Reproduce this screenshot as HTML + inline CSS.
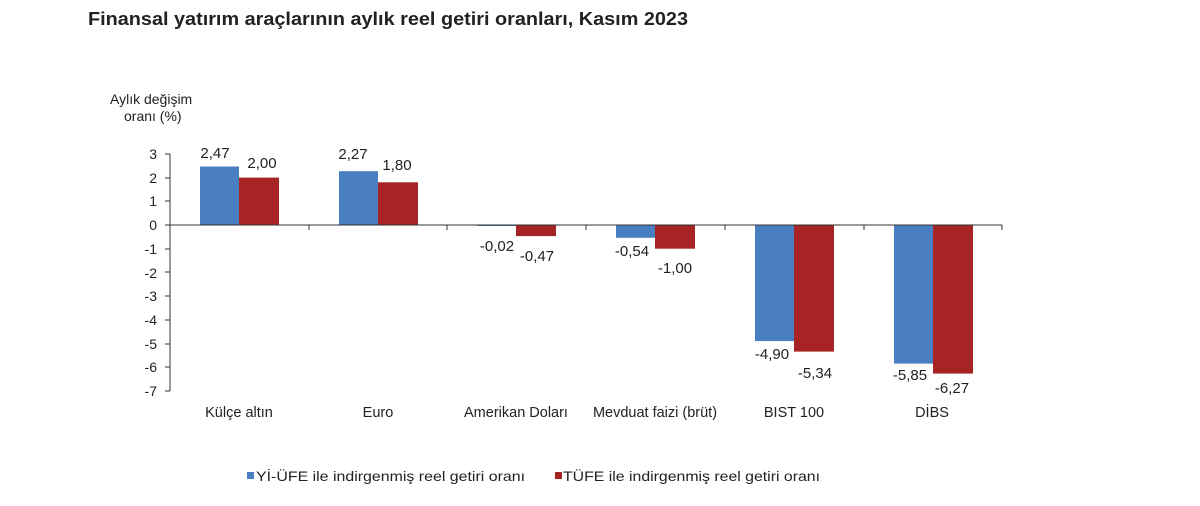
<!DOCTYPE html>
<html><head><meta charset="utf-8"><style>body{margin:0;background:#fff}svg{display:block}text{font-family:"Liberation Sans",Arial,sans-serif;fill:#222}</style></head><body>
<svg width="1200" height="506" viewBox="0 0 1200 506">
<text x="88" y="25" font-size="18" font-weight="bold" fill="#000" textLength="600" lengthAdjust="spacingAndGlyphs">Finansal yatırım araçlarının aylık reel getiri oranları, Kasım 2023</text>
<text x="110" y="104" font-size="14">Aylık değişim</text>
<text x="124" y="121" font-size="14">oranı (%)</text>
<g font-size="14" text-anchor="end">
<text x="157" y="159">3</text><text x="157" y="183">2</text><text x="157" y="206">1</text><text x="157" y="230">0</text>
<text x="157" y="254">-1</text><text x="157" y="278">-2</text><text x="157" y="301">-3</text><text x="157" y="325">-4</text>
<text x="157" y="349">-5</text><text x="157" y="372">-6</text><text x="157" y="396">-7</text>
</g>
<g stroke="#333" stroke-width="1">
<line x1="170" y1="154" x2="170" y2="391"/>
<line x1="165" y1="154" x2="170" y2="154"/><line x1="165" y1="178" x2="170" y2="178"/><line x1="165" y1="201" x2="170" y2="201"/><line x1="165" y1="225" x2="170" y2="225"/><line x1="165" y1="249" x2="170" y2="249"/><line x1="165" y1="272" x2="170" y2="272"/><line x1="165" y1="296" x2="170" y2="296"/><line x1="165" y1="320" x2="170" y2="320"/><line x1="165" y1="344" x2="170" y2="344"/><line x1="165" y1="367" x2="170" y2="367"/><line x1="165" y1="391" x2="170" y2="391"/>
</g>
<g fill="#4a7ec2">
<rect x="200" y="166.5" width="39" height="58.5"/>
<rect x="339" y="171.2" width="39" height="53.8"/>
<rect x="477" y="225" width="39" height="1"/>
<rect x="616" y="225" width="39" height="12.8"/>
<rect x="755" y="225" width="39" height="116.1"/>
<rect x="894" y="225" width="39" height="138.6"/>
</g>
<g fill="#a62423">
<rect x="239" y="177.6" width="40" height="47.4"/>
<rect x="378" y="182.3" width="40" height="42.7"/>
<rect x="516" y="225" width="40" height="11.1"/>
<rect x="655" y="225" width="40" height="23.7"/>
<rect x="794" y="225" width="40" height="126.6"/>
<rect x="933" y="225" width="40" height="148.6"/>
</g>
<g stroke="#333" stroke-width="1">
<line x1="170" y1="225" x2="1002" y2="225"/>
<line x1="309" y1="225" x2="309" y2="230"/><line x1="447" y1="225" x2="447" y2="230"/><line x1="586" y1="225" x2="586" y2="230"/><line x1="725" y1="225" x2="725" y2="230"/><line x1="864" y1="225" x2="864" y2="230"/><line x1="1002" y1="225" x2="1002" y2="230"/>
</g>
<g font-size="15" text-anchor="middle">
<text x="215" y="158">2,47</text><text x="262" y="168">2,00</text>
<text x="353" y="159">2,27</text><text x="397" y="170">1,80</text>
<text x="497" y="251">-0,02</text><text x="537" y="261">-0,47</text>
<text x="632" y="256">-0,54</text><text x="675" y="273">-1,00</text>
<text x="772" y="359">-4,90</text><text x="815" y="378">-5,34</text>
<text x="910" y="380">-5,85</text><text x="952" y="393">-6,27</text>
</g>
<g font-size="14.5" text-anchor="middle">
<text x="239" y="417">Külçe altın</text><text x="378" y="417">Euro</text><text x="516" y="417">Amerikan Doları</text>
<text x="655" y="417">Mevduat faizi (brüt)</text><text x="794" y="417">BIST 100</text><text x="932" y="417">DİBS</text>
</g>
<rect x="247" y="472" width="7" height="7" fill="#4a7ec2"/>
<text x="256" y="481" font-size="14" textLength="269" lengthAdjust="spacingAndGlyphs">Yİ-ÜFE ile indirgenmiş reel getiri oranı</text>
<rect x="555" y="472" width="7" height="7" fill="#a62423"/>
<text x="563" y="481" font-size="14" textLength="257" lengthAdjust="spacingAndGlyphs">TÜFE ile indirgenmiş reel getiri oranı</text>
</svg>
</body></html>
